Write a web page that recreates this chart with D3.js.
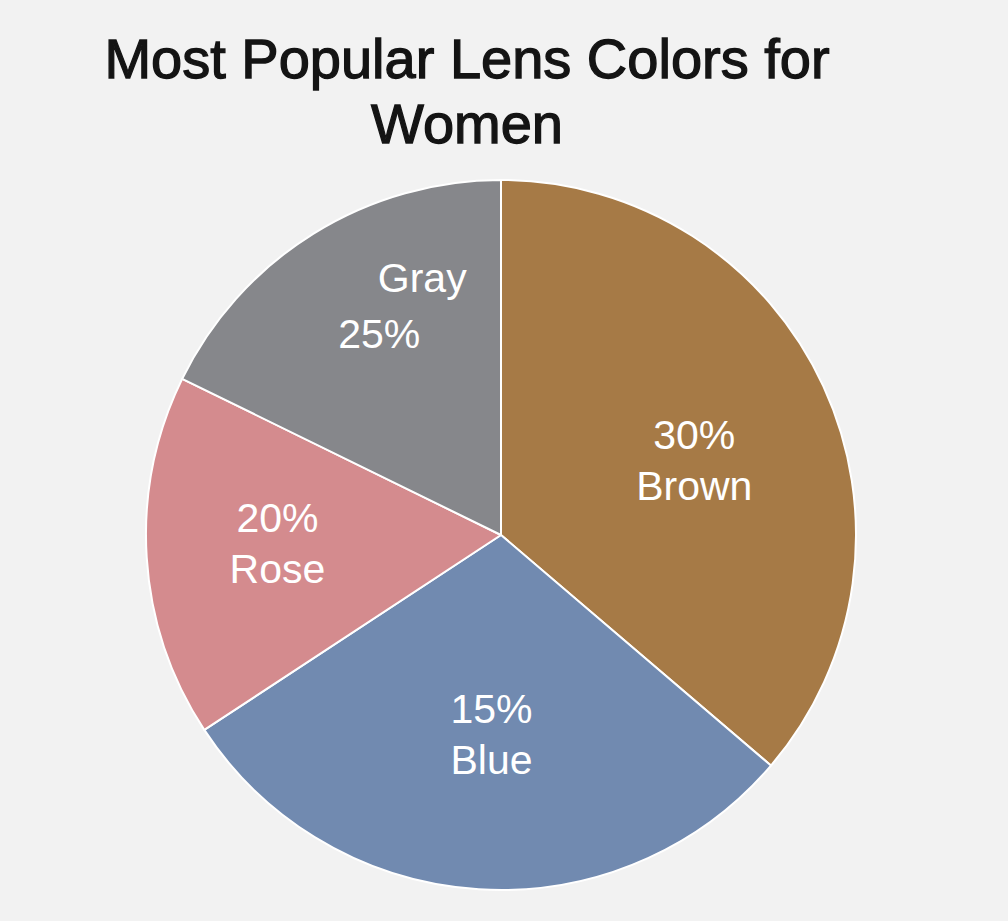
<!DOCTYPE html>
<html lang="en">
<head>
<meta charset="utf-8">
<title>Most Popular Lens Colors for Women</title>
<script src="https://cdn.jsdelivr.net/npm/d3@7"></script>
<style>
  html, body { margin: 0; padding: 0; background: #f2f2f2; }
  svg { display: block; }
</style>
</head>
<body>
<script>
var categories = ["Brown", "Blue", "Rose", "Gray"];
var shares = [36.25, 29.5, 16.5, 17.75];
var labelText = ["30%", "15%", "20%", "25%"];
var colors = ["#a67a46", "#718ab0", "#d48b8e", "#86878b"];
var titleLines = ["Most Popular Lens Colors for", "Women"];

var w = 1008, h = 921;
var cx = 501, cy = 535, radius = 355;
var labelRadius = 215;
// small per-slice nudges for the label blocks
var labelNudge = [[-2, 14], [4, -17], [-9, -6], [13, -51]];

var svg = d3.select("body").append("svg")
  .attr("width", w)
  .attr("height", h);

svg.append("rect")
  .attr("width", w)
  .attr("height", h)
  .attr("fill", "#f2f2f2");

// title
svg.append("g").selectAll("text")
  .data(titleLines)
  .enter()
  .append("text")
  .text(function(d) { return d; })
  .attr("x", 467)
  .attr("y", function(d, i) { return 78 + i * 65; })
  .attr("text-anchor", "middle")
  .attr("font-family", "'Liberation Sans', Arial, sans-serif")
  .attr("font-size", "56px")
  .attr("fill", "#141414")
  .attr("stroke", "#141414")
  .attr("stroke-width", 1.3);

var pie = d3.pie().sort(null).value(function(d) { return d; });
var arcs = pie(shares);

var arc = d3.arc().innerRadius(0).outerRadius(radius);
var labelArc = d3.arc().innerRadius(labelRadius).outerRadius(labelRadius);

var g = svg.append("g").attr("transform", "translate(" + cx + "," + cy + ")");

g.selectAll("path")
  .data(arcs)
  .enter()
  .append("path")
  .attr("d", arc)
  .attr("fill", function(d, i) { return colors[i]; })
  .attr("stroke", "#ffffff")
  .attr("stroke-width", 2)
  .attr("stroke-linejoin", "round");

var labels = g.selectAll("g.label")
  .data(arcs)
  .enter()
  .append("g")
  .attr("class", "label")
  .attr("transform", function(d, i) {
    var c = labelArc.centroid(d);
    return "translate(" + (c[0] + labelNudge[i][0]) + "," + (c[1] + labelNudge[i][1]) + ")";
  });

labels.each(function(d, i) {
  var sel = d3.select(this);
  // gray slice prints the name first, staggered to the right
  var lines = categories[i] === "Gray"
    ? [{t: categories[i], dx: 22, dy: -10}, {t: labelText[i], dx: -21, dy: 46}]
    : [{t: labelText[i], dx: 0, dy: -10}, {t: categories[i], dx: 0, dy: 41}];
  sel.selectAll("text")
    .data(lines)
    .enter()
    .append("text")
    .text(function(l) { return l.t; })
    .attr("x", function(l) { return l.dx; })
    .attr("y", function(l) { return l.dy; })
    .attr("text-anchor", "middle")
    .attr("font-family", "'Liberation Sans', Arial, sans-serif")
    .attr("font-size", "41px")
    .attr("fill", "#ffffff");
});
</script>
</body>
</html>
